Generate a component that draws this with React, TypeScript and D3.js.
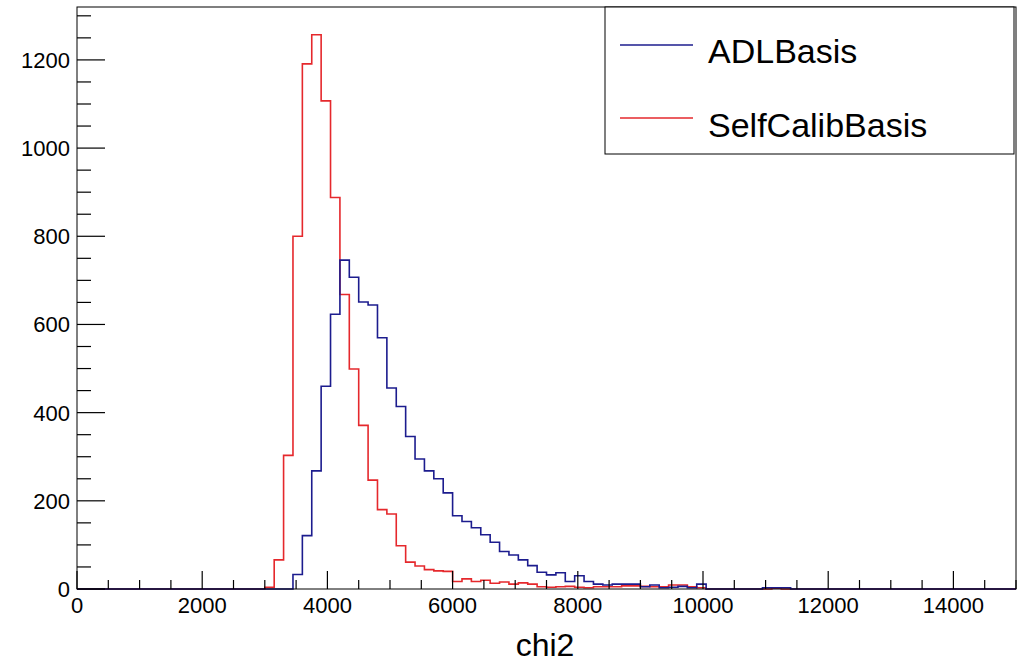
import React from "react";
import * as d3 from "d3";

const binWidth = 150;
const xMax = 15000;
const yMax = 1320;
const xTickLabels = ["0", "2000", "4000", "6000", "8000", "10000", "12000", "14000"];
const yTickLabels = ["0", "200", "400", "600", "800", "1000", "1200"];
const seriesNames = ["ADLBasis", "SelfCalibBasis"];

// counts per 150-wide bin, bins 0..99
const selfCalibCounts = [
  0, 0, 0, 0, 0, 0, 0, 0, 0, 0,
  0, 0, 0, 0, 0, 0, 0, 0, 0, 0,
  4, 66, 303, 800, 1191, 1257, 1107, 888, 668, 499,
  371, 247, 180, 170, 98, 61, 52, 44, 41, 40,
  17, 23, 17, 20, 13, 16, 11, 14, 11, 5,
  4, 5, 6, 4, 3, 5, 5, 5, 7, 7,
  6, 5, 5, 9, 9, 5, 3, 0, 0, 0,
  0, 0, 0, 0, 2, 0, 0, 0, 0, 0,
  0, 0, 0, 0, 0, 0, 0, 0, 0, 0,
  0, 0, 0, 0, 0, 0, 0, 0, 0, 0,
];
const adlCounts = [
  0, 0, 0, 0, 0, 0, 0, 0, 0, 0,
  0, 0, 0, 0, 0, 0, 0, 0, 0, 0,
  0, 0, 0, 33, 121, 268, 460, 623, 746, 707,
  651, 644, 570, 456, 414, 346, 295, 268, 250, 218,
  166, 153, 139, 123, 106, 85, 77, 66, 53, 38,
  32, 37, 17, 30, 17, 11, 9, 11, 11, 11,
  5, 9, 3, 4, 6, 3, 11, 0, 0, 0,
  0, 0, 0, 3, 3, 3, 0, 0, 0, 0,
  0, 0, 0, 0, 0, 0, 0, 0, 0, 0,
  0, 0, 0, 0, 0, 0, 0, 0, 0, 0,
];

const W = 1019;
const H = 663;
const left = 77;
const right = 1016;
const top = 7;
const bottom = 589;
const FONT = "'Liberation Sans', Arial, Helvetica, sans-serif";
const BLUE = "#1c1c8e";
const RED = "#e5282c";

export default function App() {
  const x = d3.scaleLinear().domain([0, xMax]).range([left, right]);
  const y = d3.scaleLinear().domain([0, yMax]).range([bottom, top]);

  const stepPath = (counts: number[]) => {
    const pts: [number, number][] = counts.map((c, i) => [i * binWidth, c]);
    pts.push([counts.length * binWidth, counts[counts.length - 1]]);
    const line = d3
      .line<[number, number]>()
      .x((d) => x(d[0]))
      .y((d) => y(d[1]))
      .curve(d3.curveStepAfter);
    return line(pts) || "";
  };

  const xMajor = d3.range(0, xMax + 1, 2000);
  const xMinor = d3.range(0, xMax + 1, 500).filter((v) => v % 2000 !== 0);
  const yMajor = d3.range(0, 1201, 200);
  const yMinor = d3.range(0, yMax + 1, 50).filter((v) => v % 200 !== 0);

  return (
    <svg
      width={W}
      height={H}
      style={{ position: "absolute", left: 0, top: 0, background: "#fff" }}
      fontFamily={FONT}
    >
      <rect x={0} y={0} width={W} height={H} fill="#fff" />
      {/* histograms */}
      <path d={stepPath(selfCalibCounts)} fill="none" stroke={RED} strokeWidth={1.6} />
      <path d={stepPath(adlCounts)} fill="none" stroke={BLUE} strokeWidth={1.6} />
      {/* frame */}
      <rect x={left} y={top} width={right - left} height={bottom - top} fill="none" stroke="#000" strokeWidth={1} />
      {/* x ticks */}
      {xMajor.map((v) => (
        <line key={"xM" + v} x1={x(v)} x2={x(v)} y1={bottom} y2={bottom - 18} stroke="#000" strokeWidth={1.2} />
      ))}
      {xMinor.map((v) => (
        <line key={"xm" + v} x1={x(v)} x2={x(v)} y1={bottom} y2={bottom - 9} stroke="#000" strokeWidth={1.2} />
      ))}
      {xMajor.map((v, i) => (
        <text key={"xl" + v} x={x(v)} y={613} textAnchor="middle" fontSize={22} fill="#000">
          {xTickLabels[i]}
        </text>
      ))}
      {/* y ticks */}
      {yMajor.map((v) => (
        <line key={"yM" + v} x1={left} x2={left + 28} y1={y(v)} y2={y(v)} stroke="#000" strokeWidth={1.2} />
      ))}
      {yMinor.map((v) => (
        <line key={"ym" + v} x1={left} x2={left + 14} y1={y(v)} y2={y(v)} stroke="#000" strokeWidth={1.2} />
      ))}
      {yMajor.map((v, i) => (
        <text key={"yl" + v} x={70} y={y(v) + 8} textAnchor="end" fontSize={22} fill="#000">
          {yTickLabels[i]}
        </text>
      ))}
      {/* x title */}
      <text x={545} y={656} textAnchor="middle" fontSize={32} fill="#000">
        chi2
      </text>
      {/* legend */}
      <rect x={605} y={7} width={409} height={147} fill="#fff" stroke="#000" strokeWidth={1} />
      <line x1={620} x2={693} y1={45} y2={45} stroke={BLUE} strokeWidth={1.6} />
      <text x={708} y={63} fontSize={34} fill="#000">
        {seriesNames[0]}
      </text>
      <line x1={620} x2={693} y1={118} y2={118} stroke={RED} strokeWidth={1.6} />
      <text x={708} y={137} fontSize={34} fill="#000">
        {seriesNames[1]}
      </text>
    </svg>
  );
}
